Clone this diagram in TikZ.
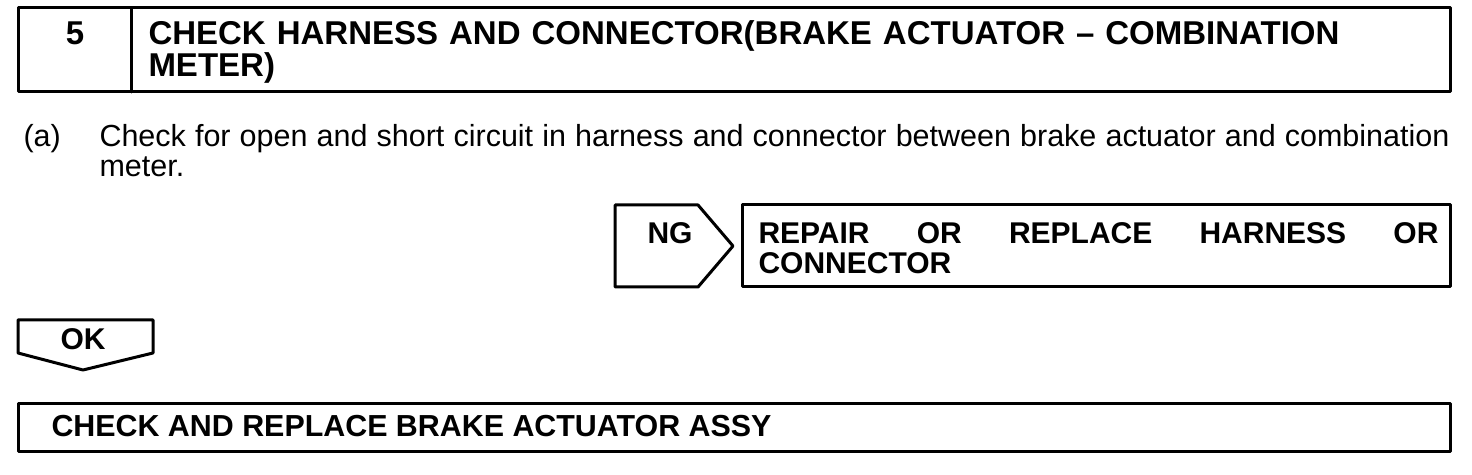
\documentclass[tikz,border=0pt]{standalone}
\usepackage{fontspec, tkz-euclide}
\setmainfont{Liberation Sans}
\tolerance=9999
\hbadness=10000
\hyphenpenalty=10000
\exhyphenpenalty=10000

\begin{document}
\begin{tikzpicture}[x = 1pt, y = 1pt, line width = 3pt]
    \tkzDefPoints{0/0/O, 1472/474/Z}
    \useasboundingbox (O) rectangle (Z);
    \tkzDefPoints{18/466/HA, 131/466/HB, 1450/466/HC, 1450/382/HD, 131/382/HE, 18/382/HF}
    \tkzDefPoints{615/269/NA, 698/269/NB, 733/228/NC, 698/187/ND, 615/187/NE}
    \tkzDefPoints{742/269/RA, 1450/269/RB, 1450/187/RC, 742/187/RD}
    \tkzDefPoints{18/154/KA, 153/154/KB, 153/121/KC, 83/104/KD, 18/121/KE}
    \tkzDefPoints{18/71/BA, 1450/71/BB, 1450/23/BC, 18/23/BD}
    \tkzDrawPolygon[line width = 3pt](HA,HC,HD,HF)
    \tkzDrawSegment[line width = 3pt](HB,HE)
    \tkzDrawPolygon[line width = 3pt](NA,NB,NC,ND,NE)
    \tkzDrawPolygon[line width = 3pt](RA,RB,RC,RD)
    \tkzDrawPolygon[line width = 3pt](KA,KB,KC,KD,KE)
    \tkzDrawPolygon[line width = 3pt](BA,BB,BC,BD)
    \node (stepnum) at (75,429) [anchor = base, font = \bfseries\fontsize{33}{30}\selectfont] {5};
    \node (steptitle) at (147,429) [anchor = base west, inner sep = 0pt, text width = 1290pt, align = left, font = \bfseries\fontsize{33}{30}\selectfont] {CHECK HARNESS AND CONNECTOR(BRAKE ACTUATOR -- COMBINATION METER)};
    \node (itema) at (22,327) [anchor = base west, inner sep = 0pt, font = \fontsize{30.5}{30}\selectfont] {(a)};
    \node (itemtext) at (98,327) [anchor = base west, inner sep = 0pt, text width = 1350pt, align = justify, font = \fontsize{30.5}{30}\selectfont] {Check for open and short circuit in harness and connector between brake actuator and combination meter.};
    \node (ng) at (670,230) [anchor = base, inner sep = 0pt, font = \bfseries\fontsize{30}{30}\selectfont] {NG};
    \node (repair) at (757,230) [anchor = base west, inner sep = 0pt, text width = 680pt, align = justify, font = \bfseries\fontsize{30}{30}\selectfont] {REPAIR OR REPLACE HARNESS OR CONNECTOR};
    \node (ok) at (83,124) [anchor = base, inner sep = 0pt, font = \bfseries\fontsize{30}{30}\selectfont] {OK};
    \node (replace) at (50,38) [anchor = base west, inner sep = 0pt, font = \bfseries\fontsize{30.4}{30}\selectfont] {CHECK AND REPLACE BRAKE ACTUATOR ASSY};
\end{tikzpicture}
\end{document}
